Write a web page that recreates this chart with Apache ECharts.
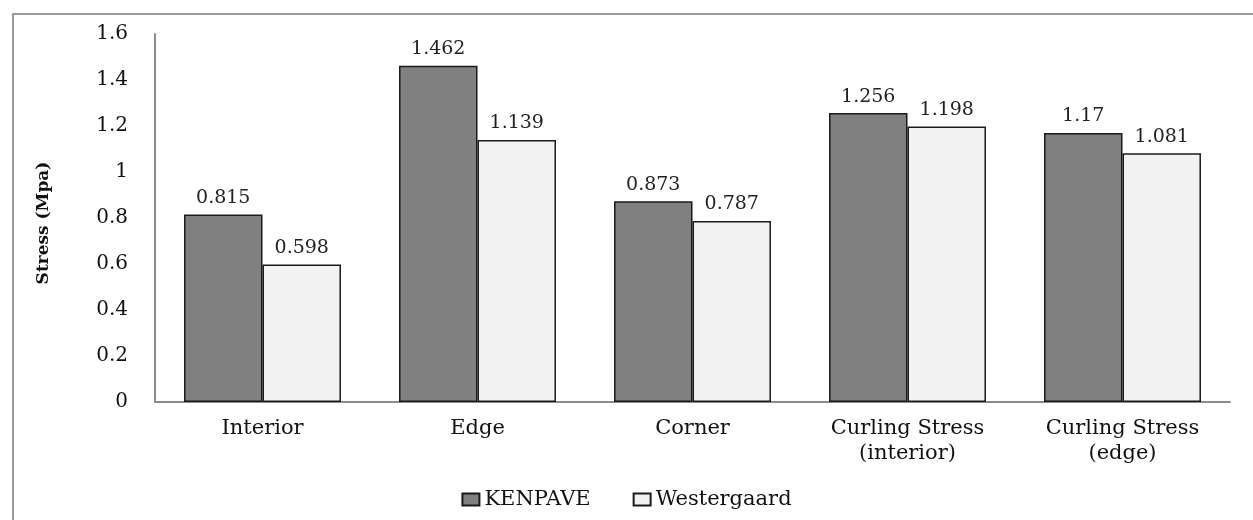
<!DOCTYPE html>
<html><head><meta charset="utf-8">
<script src="https://cdn.jsdelivr.net/npm/echarts@6/dist/echarts.min.js"></script>
<style>html,body{margin:0;padding:0;background:#fff}#c{width:1253px;height:520px}</style>
</head><body><div id="c"></div>
<script>
const categories = ['Interior', 'Edge', 'Corner', 'Curling Stress\n(interior)', 'Curling Stress\n(edge)'];
const kenpave = [0.815, 1.462, 0.873, 1.256, 1.17];
const westergaard = [0.598, 1.139, 0.787, 1.198, 1.081];
const seriesNames = ['KENPAVE', 'Westergaard'];
const yTicks = { min: 0, max: 1.6, interval: 0.2 };

const font = '"DejaVu Serif", serif';
const chart = echarts.init(document.getElementById('c'));
const lbl = {
  show: true, position: 'top', distance: 7,
  fontFamily: font, fontSize: 19, color: '#222',
  formatter: p => String(p.value)
};
chart.setOption({
  animation: false,
  graphic: [{
    type: 'rect', shape: { x: 13, y: 14, width: 1300, height: 600 },
    style: { fill: 'none', stroke: '#9a9a9a', lineWidth: 2 }, silent: true, z: -1
  }],
  grid: { left: 155, top: 34, right: 23, bottom: 118, containLabel: false },
  legend: {
    top: 484, left: 'center', itemWidth: 17, itemHeight: 12, itemGap: 42,
    icon: 'rect',
    textStyle: { fontFamily: font, fontSize: 21, color: '#111' },
    data: seriesNames
  },
  xAxis: {
    type: 'category', data: categories,
    axisLine: { lineStyle: { color: '#8c8c8c', width: 2 } },
    axisTick: { show: false },
    axisLabel: { fontFamily: font, fontSize: 21, color: '#111', margin: 14, lineHeight: 25, interval: 0 }
  },
  yAxis: {
    type: 'value', min: yTicks.min, max: yTicks.max, interval: yTicks.interval,
    name: 'Stress (Mpa)', nameLocation: 'middle', nameGap: 103, nameRotate: 90,
    nameTextStyle: { fontFamily: font, fontSize: 17, fontWeight: 'bold', color: '#111', padding: [0, 10, 0, 0] },
    axisLine: { show: true, lineStyle: { color: '#8c8c8c', width: 2 } },
    axisTick: { show: false },
    splitLine: { show: false },
    axisLabel: { fontFamily: font, fontSize: 20, color: '#111', margin: 27, formatter: v => String(+v.toFixed(1)) }
  },
  series: [
    { name: seriesNames[0], type: 'bar', data: kenpave, barGap: '0%', barCategoryGap: '27%',
      itemStyle: { color: '#808080', borderColor: '#1a1a1a', borderWidth: 1.5 }, label: lbl },
    { name: seriesNames[1], type: 'bar', data: westergaard,
      itemStyle: { color: '#f2f2f2', borderColor: '#1a1a1a', borderWidth: 1.5 }, label: lbl }
  ]
});
</script></body></html>
